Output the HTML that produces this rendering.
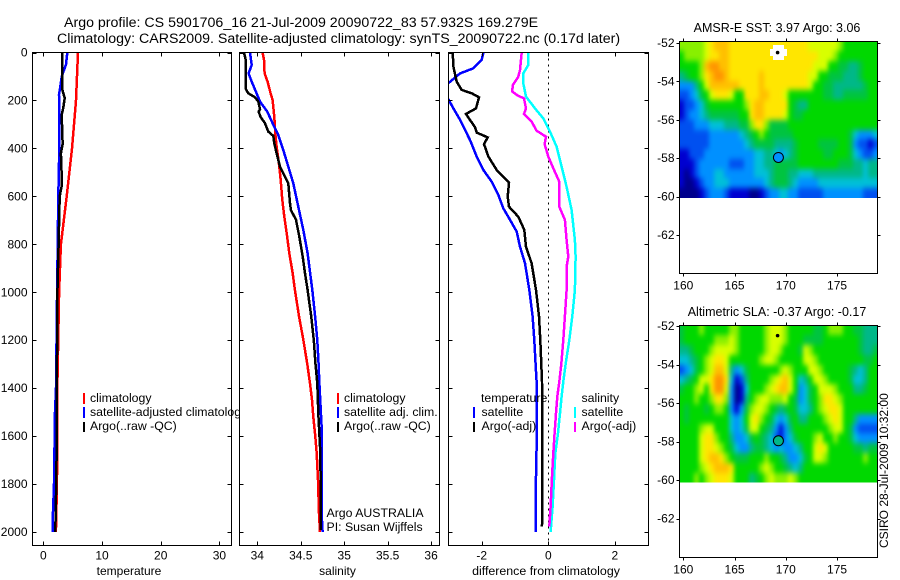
<!DOCTYPE html>
<html lang="en">
<head>
<meta charset="utf-8">
<title>Argo profile CS 5901706_16</title>
<style>
html,body{margin:0;padding:0;background:#fff;}
svg{display:block;}
text{font-family:"Liberation Sans",sans-serif;font-size:12px;fill:#000;}
text.ttl{font-size:14.2px;}
text.map-ttl{font-size:12.5px;}
text.lg{font-size:12.3px;}
</style>
</head>
<body>
<svg id="chart" xmlns="http://www.w3.org/2000/svg" width="900" height="580" viewBox="0 0 900 580">
  <rect x="0" y="0" width="900" height="580" fill="#fff"/>
  <text class="ttl" x="64" y="27">Argo profile: CS 5901706_16 21-Jul-2009 20090722_83 57.932S 169.279E</text>
  <text class="ttl" x="57" y="43">Climatology: CARS2009. Satellite-adjusted climatology: synTS_20090722.nc (0.17d later)</text>

  <g id="panel-temp"></g>
  <g>
    <rect x="83" y="393" width="2" height="11" fill="#f00"/>
    <rect x="83" y="407" width="2" height="11" fill="#00f"/>
    <rect x="83" y="422" width="2" height="10" fill="#000"/>
    <text class="lg" x="90" y="402">climatology</text>
    <text class="lg" x="90" y="416">satellite-adjusted climatology</text>
    <text class="lg" x="90" y="430">Argo(..raw -QC)</text>
  </g>
  <text x="129" y="575" text-anchor="middle">temperature</text>

  <g id="panel-sal"></g>
  <g>
    <rect x="337" y="393" width="2" height="11" fill="#f00"/>
    <rect x="337" y="407" width="2" height="11" fill="#00f"/>
    <rect x="337" y="422" width="2" height="10" fill="#000"/>
    <text class="lg" x="344" y="402">climatology</text>
    <text class="lg" x="344" y="416">satellite adj. clim.</text>
    <text class="lg" x="344" y="430">Argo(..raw -QC)</text>
    <text class="lg" x="326.5" y="517">Argo AUSTRALIA</text>
    <text class="lg" x="326.5" y="531">PI: Susan Wijffels</text>
  </g>
  <text x="337.5" y="575" text-anchor="middle">salinity</text>

  <g id="panel-diff"></g>
  <g>
    <text class="lg" x="481" y="402">temperature</text>
    <rect x="473" y="407" width="2" height="11" fill="#00f"/>
    <rect x="473" y="422" width="2" height="10" fill="#000"/>
    <text class="lg" x="481.5" y="416">satellite</text>
    <text class="lg" x="481.5" y="430">Argo(-adj)</text>
    <text class="lg" x="581.5" y="402">salinity</text>
    <rect x="574" y="407" width="2" height="11" fill="#0ff"/>
    <rect x="574" y="422" width="2" height="10" fill="#f0f"/>
    <text class="lg" x="581.5" y="416">satellite</text>
    <text class="lg" x="581.5" y="430">Argo(-adj)</text>
  </g>
  <text style="font-size:12.4px" x="546" y="575" text-anchor="middle">difference from climatology</text>

  <text class="map-ttl" x="777" y="32" text-anchor="middle">AMSR-E SST: 3.97 Argo: 3.06</text>
  <g id="map-sst"></g>
  <text class="map-ttl" x="777" y="316" text-anchor="middle">Altimetric SLA: -0.37 Argo: -0.17</text>
  <g id="map-sla"></g>
  <text transform="translate(888,548) rotate(-90)">CSIRO 28-Jul-2009 10:32:00</text>
</svg>
<script>
// ---- Axis tick values ----
const depthTicks = [0,200,400,600,800,1000,1200,1400,1600,1800,2000];
const tempTicks = [0,10,20,30];
const salTicks = [34,34.5,35,35.5,36];
const diffTicks = [-2,0,2];
const lonTicks = [160,165,170,175];
const latTicks = [-52,-54,-56,-58,-60,-62];

// ---- Temperature profiles ----
const tempClimDepth = [0,200,400,600,800,1000,1400,1650,1850,2000];
const tempClimValues = [5.91,5.57,4.89,3.98,3.0,2.7,2.39,2.4,2.28,2.15];
const tempSatDepth = [0,50,100,150,175,300,400,600,1000,1400,1500,1800,1950,2000];
const tempSatValues = [4.09,3.87,3.13,2.85,2.67,2.73,2.73,2.56,2.35,2.16,2.0,1.83,1.6,1.6];
const tempArgoDepth = [0,100,150,190,230,260,300,350,380,420,550,600,800,1000,1400,1650,1850,2000];
const tempArgoValues = [3.19,3.19,3.19,3.64,3.41,3.13,3.19,3.24,3.3,3.0,3.19,2.8,2.6,2.4,2.3,2.28,2.16,2.05];

// ---- Salinity profiles ----
const salClimDepth = [0,31,87,122,170,198,268,337,393,462,532,615,685,754,837,921,990,1100,1200,1300,1380,1449,1519,1602,1672,1783,1922,2000];
const salClimValues = [34.061,34.077,34.084,34.119,34.153,34.176,34.196,34.207,34.222,34.249,34.269,34.288,34.311,34.338,34.368,34.407,34.433,34.48,34.53,34.575,34.606,34.629,34.644,34.667,34.683,34.698,34.71,34.721];
const salSatDepth = [0,52,87,122,170,205,247,295,344,407,476,546,643,740,837,990,1100,1200,1300,1373,1560,1700,1922,2000];
const salSatValues = [33.916,33.935,33.9,33.935,33.992,34.031,34.115,34.176,34.242,34.299,34.357,34.414,34.472,34.529,34.579,34.633,34.665,34.69,34.705,34.713,34.74,34.74,34.74,34.752];
const salArgoDepth = [0,31,154,170,187,205,237,247,268,295,330,348,379,420,476,518,546,629,657,698,768,851,921,990,1100,1200,1300,1380,1505,1644,1783,1991];
const salArgoValues = [33.847,33.866,33.87,33.896,33.973,34.012,34.031,34.015,34.038,34.088,34.127,34.184,34.196,34.222,34.261,34.318,34.357,34.376,34.387,34.445,34.483,34.522,34.549,34.579,34.62,34.65,34.67,34.69,34.702,34.721,34.729,34.729];

// ---- Differences from climatology ----
const diffTempSatDepth = [0,31,66,87,122,150,195,233,281,323,365,434,490,539,594,650,698,747,810,879,990,1100,1200,1300,1373,1644,1852,2000];
const diffTempSatValues = [-1.95,-2.0,-2.25,-2.65,-2.95,-3.2,-3.0,-2.85,-2.65,-2.5,-2.35,-2.15,-1.95,-1.7,-1.5,-1.35,-1.15,-0.95,-0.85,-0.7,-0.57,-0.47,-0.42,-0.38,-0.35,-0.35,-0.38,-0.38];
const diffTempArgoDepth = [0,59,122,156,170,187,233,256,281,312,334,354,382,434,490,543,601,643,685,740,810,879,990,1100,1200,1300,1373,1644,1978];
const diffTempArgoValues = [-2.87,-2.85,-2.75,-2.6,-2.3,-2.08,-2.17,-2.47,-2.35,-2.2,-2.15,-1.82,-1.93,-1.8,-1.55,-1.18,-1.22,-1.18,-0.9,-0.72,-0.67,-0.5,-0.37,-0.28,-0.24,-0.21,-0.19,-0.18,-0.19];
const diffSalSatDepth = [0,52,87,129,184,233,275,330,393,476,560,657,782,851,990,1100,1200,1300,1373,1435,1505,1588,1672,1783,1894,2000];
const diffSalSatValues = [-0.6,-0.6,-0.75,-0.75,-0.67,-0.4,-0.15,0.05,0.25,0.4,0.55,0.7,0.8,0.82,0.8,0.72,0.63,0.52,0.45,0.4,0.35,0.29,0.21,0.17,0.13,0.07];
const diffSalArgoDepth = [0,73,101,136,163,181,191,233,256,288,326,351,382,434,483,539,643,698,782,851,893,990,1100,1200,1300,1373,1435,1505,1588,1672,1769,1894,1978];
const diffSalArgoValues = [-0.8,-0.85,-0.9,-1.07,-1.08,-0.9,-0.73,-0.67,-0.73,-0.5,-0.35,-0.07,-0.11,0,0.15,0.33,0.33,0.5,0.55,0.6,0.55,0.55,0.5,0.45,0.39,0.33,0.27,0.23,0.19,0.15,0.11,0.07,0.03];

// ---- Float position ----
const floatLon = [169.279];
const floatLat = [-57.932];
const previousLon = [169.2];
const previousLat = [-52.5];
const sstAtFloat = [3];
const slaAtFloat = [5];

// ---- Map grids: colour-scale level of each half-degree cell, north to south ----
const sstGrid = [
[8,8,8,8,8,9,10,11,11,11,10,10,10,10,10,10,10,10,10,10,10,10,10,10,10,10,9,9,9,9,9,9,8,7,7,7,7,7,7,7],
[7,8,8,8,8,9,10,10,11,11,10,10,10,10,10,10,10,10,10,10,10,10,10,10,10,10,10,10,9,9,9,8,7,7,7,7,7,7,7,7],
[7,7,7,7,8,11,12,12,11,11,10,10,10,10,10,10,10,10,10,10,10,10,10,10,10,10,10,9,9,9,7,7,6,6,5,5,6,7,7,7],
[5,6,7,7,8,10,11,12,12,11,10,10,10,10,10,10,11,10,10,10,10,10,10,10,10,10,9,9,7,7,6,6,6,5,5,5,6,7,7,7],
[3,3,3,5,7,9,11,11,11,11,11,11,10,10,10,10,11,10,10,10,10,10,10,10,10,10,9,7,7,6,6,5,5,5,5,5,5,6,7,7],
[2,2,3,4,6,7,9,10,10,10,9,7,7,10,10,10,11,11,10,10,10,9,7,7,7,7,7,7,7,6,6,5,5,6,6,6,6,6,7,7],
[1,2,2,3,4,6,7,7,7,7,7,7,7,8,10,11,11,10,10,10,10,10,7,6,5,5,7,7,7,7,7,7,7,7,7,7,7,7,7,7],
[1,2,3,3,4,5,6,6,6,6,6,6,7,7,10,11,11,10,10,10,10,9,7,6,6,7,7,7,7,7,7,7,7,7,7,7,7,7,7,7],
[2,2,2,3,3,3,4,4,4,5,5,5,6,6,8,10,10,8,6,6,6,6,7,7,7,7,7,7,7,7,7,7,7,7,7,7,7,7,7,7],
[2,2,2,2,2,2,3,3,3,3,3,3,4,5,6,7,8,7,6,6,6,6,6,7,7,7,7,7,7,7,7,7,7,7,6,4,3,3,3,4],
[2,2,2,2,2,2,3,3,3,3,3,3,3,4,5,6,6,6,6,5,5,5,5,6,7,7,7,7,6,6,6,6,7,7,6,3,2,2,1,2],
[1,1,2,2,2,3,3,3,3,3,3,3,3,3,3,4,4,5,5,4,3,4,5,6,7,7,7,7,7,6,6,7,7,7,6,4,3,2,2,3],
[1,1,1,2,3,3,3,3,3,3,2,2,2,3,3,4,4,5,5,6,6,6,6,6,7,7,7,7,7,7,7,7,6,6,6,5,5,4,5,5],
[1,0,1,2,3,3,3,4,4,3,3,3,3,3,3,4,4,4,5,6,6,6,5,5,4,4,4,5,5,5,5,5,5,5,5,5,5,4,5,5],
[1,0,0,1,2,3,3,4,4,4,3,3,3,3,3,3,3,4,5,6,6,6,5,4,3,3,3,3,4,4,4,4,4,4,4,4,4,4,4,4],
[0,0,0,0,1,2,3,3,3,2,1,1,1,1,0,0,1,2,3,3,4,4,3,3,2,2,2,2,2,3,3,3,3,3,3,3,3,2,2,2]
];
const slaGrid = [
[6,7,7,7,8,7,7,7,7,7,8,8,7,7,7,7,7,8,9,9,9,8,7,7,7,7,7,6,6,7,8,8,8,7,7,6,6,5,5,5],
[6,7,7,7,7,7,7,8,8,8,9,8,7,7,7,7,7,8,9,9,9,8,7,7,7,6,6,6,6,7,7,7,7,7,7,7,6,5,5,5],
[5,5,6,7,7,7,8,9,9,9,9,8,7,7,7,7,7,8,9,9,8,7,7,7,6,9,8,7,7,7,7,7,7,7,7,7,6,5,5,6],
[4,4,5,6,7,8,9,10,10,9,7,7,7,7,7,7,8,9,9,8,7,7,7,7,7,9,9,8,7,7,7,7,7,7,7,7,7,6,6,7],
[2,3,4,6,7,8,9,11,11,9,5,3,4,6,7,7,7,7,7,7,8,9,8,7,7,7,9,9,8,7,7,7,7,7,6,5,4,5,7,7],
[4,5,6,7,9,9,10,12,12,10,4,1,2,5,7,7,7,7,8,9,10,11,9,7,4,5,7,9,9,8,7,7,7,7,6,4,4,5,7,7],
[6,7,7,8,9,7,10,12,12,9,3,0,1,4,7,7,7,8,9,10,11,11,9,7,3,4,6,7,9,9,9,8,7,7,7,5,5,6,7,7],
[7,7,7,8,7,7,8,10,10,8,3,0,1,5,7,8,9,9,8,8,8,9,7,6,3,4,6,7,8,10,10,9,8,7,7,7,7,7,7,7],
[7,6,7,7,7,6,7,8,8,7,3,1,3,6,8,9,9,8,7,6,5,6,7,6,4,4,5,7,8,9,10,10,9,7,7,7,7,7,7,7],
[7,6,7,7,7,7,7,7,7,7,4,3,4,7,9,10,8,7,6,4,3,4,6,7,5,5,7,7,7,8,9,10,9,7,7,5,3,3,3,3],
[7,7,7,7,8,9,9,7,7,7,4,3,4,6,9,9,7,6,5,3,1,3,5,7,7,7,7,7,7,7,8,9,9,7,6,3,2,2,2,2],
[7,7,7,7,9,10,10,8,7,7,5,3,3,4,6,7,6,5,4,2,1,3,4,6,7,7,7,8,9,7,7,8,7,7,6,4,3,3,3,3],
[7,7,7,7,9,10,10,9,8,7,6,4,3,3,5,6,6,5,4,3,4,3,3,4,5,7,7,9,10,9,7,7,7,7,7,6,6,5,6,6],
[7,7,7,7,9,10,11,11,10,8,7,6,6,6,7,7,7,8,7,7,6,5,3,3,4,6,7,9,9,8,7,7,7,7,7,7,7,8,7,7],
[7,7,7,7,8,9,10,11,11,11,10,7,7,7,7,7,8,9,8,7,7,6,5,4,5,7,7,7,7,7,7,7,7,7,7,7,7,7,7,7],
[7,7,7,8,7,8,9,10,10,10,9,7,7,7,5,6,7,8,9,8,8,8,9,8,7,7,7,7,7,7,7,7,7,7,7,7,7,7,7,7]
];

const SVGNS = 'http://www.w3.org/2000/svg';
const colourScale = ['#00008c','#0000d0','#0050f0','#0090ff','#00c0d8','#00b888','#00c440','#00d800','#88f000','#d8ff00','#ffe600','#ffc000','#ff9400'];

function make(tag, parent, props) {
  const el = document.createElementNS(SVGNS, tag);
  for (const k in props) el.setAttribute(k, props[k]);
  parent.appendChild(el);
  return el;
}

function addXTick(g, sx, v, top, bottom, len, out) {
  const x = Math.round(sx(v)) + 0.5;
  const t1 = make('line', g, {x1:x, x2:x, y1:top, y2:top + (out ? -len : len), stroke:'#000', 'shape-rendering':'crispEdges'});
  
  
  const t2 = make('line', g, {x1:x, x2:x, y1:bottom, y2:bottom + (out ? len : -len), stroke:'#000', 'shape-rendering':'crispEdges'});
  
  
  const lab = make('text', g, {x:sx(v), y:bottom + 14 + (out ? 2 : 0), 'text-anchor':'middle'});
  lab.textContent = String(v);
  
  
}

function addYTick(g, sy, v, left, right, len, out, showLabel) {
  const y = Math.round(sy(v)) + 0.5;
  const t1 = make('line', g, {x1:left, x2:left + (out ? -len : len), y1:y, y2:y, stroke:'#000', 'shape-rendering':'crispEdges'});
  
  
  const t2 = make('line', g, {x1:right, x2:right + (out ? len : -len), y1:y, y2:y, stroke:'#000', 'shape-rendering':'crispEdges'});
  
  
  if (showLabel) {
    const lab = make('text', g, {x:left - 5, y:sy(v) + 4, 'text-anchor':'end'});
    lab.textContent = String(v);
    
    
  }
}

function drawProfilePanel(id, left, right, sx, xTicks, showDepthLabels, series, dotted) {
  const top = 52.5, bottom = 545.5;
  const sy = d => 52.5 + d * 0.23975;
  const g = document.getElementById(id);
  const bg = make('rect', g, {x:left, y:top, width:right-left, height:bottom-top, fill:'#fff'});
  
  
  const clipId = id + '-clip';
  const clip = make('clipPath', g, {id:clipId});
  make('rect', clip, {x:left, y:top, width:right-left, height:bottom-top});
  if (dotted) {
    const z = make('line', g, {x1:Math.round(sx(0))+0.5, x2:Math.round(sx(0))+0.5, y1:top, y2:bottom, stroke:'#000', 'stroke-dasharray':'2 4', 'shape-rendering':'crispEdges'});
    
    
  }
  series.forEach(s => {
    const pts = s.depth.map((d, i) => sx(s.values[i]).toFixed(1) + ',' + sy(d).toFixed(1)).join(' ');
    const line = make('polyline', g, {points:pts, fill:'none', stroke:s.colour, 'stroke-width':2.5, 'clip-path':'url(#' + clipId + ')', 'shape-rendering':'crispEdges'});
    
    
  });
  const frame = make('rect', g, {x:left, y:top, width:right-left, height:bottom-top, fill:'none', stroke:'#000', 'shape-rendering':'crispEdges'});
  
  
  xTicks.forEach(v => addXTick(g, sx, v, top, bottom, 4, false));
  depthTicks.forEach(v => addYTick(g, sy, v, left, right, 4, false, showDepthLabels));
}

drawProfilePanel('panel-temp', 32.5, 231.5, v => 43.3 + v * 5.87, tempTicks, true, [
  {name:'temperature-climatology-line', depth:tempClimDepth, values:tempClimValues, colour:'#f00'},
  {name:'temperature-satellite-line', depth:tempSatDepth, values:tempSatValues, colour:'#00f'},
  {name:'temperature-argo-line', depth:tempArgoDepth, values:tempArgoValues, colour:'#000'}
], false);

drawProfilePanel('panel-sal', 239.5, 439.5, v => 257.3 + (v - 34) * 86.9, salTicks, false, [
  {name:'salinity-climatology-line', depth:salClimDepth, values:salClimValues, colour:'#f00'},
  {name:'salinity-satellite-line', depth:salSatDepth, values:salSatValues, colour:'#00f'},
  {name:'salinity-argo-line', depth:salArgoDepth, values:salArgoValues, colour:'#000'}
], false);

drawProfilePanel('panel-diff', 448.5, 648.5, v => 548.3 + v * 33.3, diffTicks, false, [
  {name:'difference-temp-satellite-line', depth:diffTempSatDepth, values:diffTempSatValues, colour:'#00f'},
  {name:'difference-temp-argo-line', depth:diffTempArgoDepth, values:diffTempArgoValues, colour:'#000'},
  {name:'difference-sal-satellite-line', depth:diffSalSatDepth, values:diffSalSatValues, colour:'#0ff'},
  {name:'difference-sal-argo-line', depth:diffSalArgoDepth, values:diffSalArgoValues, colour:'#f0f'}
], true);

function drawMap(id, grid, top, lat52, latScale, bottom, imageBottom, showWhiteBox, floatLevel) {
  const left = 679.5, right = 877.5;
  const sx = lon => 683.3 + (lon - 160) * 10.25;
  const sy = lat => lat52 + (-52 - lat) * latScale;
  const g = document.getElementById(id);
  const bg = make('rect', g, {x:left, y:top, width:right-left, height:bottom-top, fill:'#fff'});
  
  

  const clipId = id + '-clip';
  const clip = make('clipPath', g, {id:clipId});
  make('rect', clip, {x:left, y:top, width:right-left, height:imageBottom-top});
  const filterId = id + '-soften';
  const filter = make('filter', g, {id:filterId, filterUnits:'userSpaceOnUse', x:left-30, y:top-30, width:right-left+60, height:imageBottom-top+60, 'color-interpolation-filters':'sRGB'});
  make('feGaussianBlur', filter, {stdDeviation:'2.2 3'});
  const clipped = make('g', g, {'clip-path':'url(#' + clipId + ')'});
  
  
  const image = make('g', clipped, {filter:'url(#' + filterId + ')'});
  
  

  const rows = grid.length;
  const bleed = 14;
  grid.forEach((row, r) => {
    const y0 = Math.round(top + (imageBottom - top) * r / rows) - (r === 0 ? bleed : 0);
    const y1 = Math.round(top + (imageBottom - top) * (r + 1) / rows) + (r === rows - 1 ? bleed : 0);
    row.forEach((level, c) => {
      const x0 = Math.round(left + (right - left) * c / row.length) - (c === 0 ? bleed : 0);
      const x1 = Math.round(left + (right - left) * (c + 1) / row.length) + (c === row.length - 1 ? bleed : 0);
      const cell = make('rect', image, {x:x0, y:y0, width:x1-x0, height:y1-y0, fill:colourScale[level], 'shape-rendering':'crispEdges'});
      
      
    });
  });
  const px = sx(previousLon[0]), py = sy(previousLat[0]);
  if (showWhiteBox) {
    const a = make('rect', g, {x:Math.round(px-5), y:Math.round(py-8), width:11, height:15, fill:'#fff', 'shape-rendering':'crispEdges'});
    
    
    const b = make('rect', g, {x:Math.round(px-8), y:Math.round(py-4), width:17, height:7, fill:'#fff', 'shape-rendering':'crispEdges'});
    
    
  }
  const dot = make('circle', g, {cx:px, cy:py, r:1.8, fill:'#000'});
  
  
  const mark = make('circle', g, {cx:sx(floatLon[0]), cy:sy(floatLat[0]) + 0.6, r:5, fill:colourScale[floatLevel], stroke:'#000', 'stroke-width':1});
  
  
  const frame = make('rect', g, {x:left, y:top, width:right-left, height:bottom-top, fill:'none', stroke:'#000', 'shape-rendering':'crispEdges'});
  
  
  lonTicks.forEach(v => addXTick(g, sx, v, top, bottom, 3, true));
  latTicks.forEach(v => addYTick(g, sy, v, left, right, 3, true, true));
}

drawMap('map-sst', sstGrid, 41.5, 43, 19.2, 273.5, 198, true, sstAtFloat[0]);
drawMap('map-sla', slaGrid, 325.5, 326, 19.25, 557.5, 482.5, false, slaAtFloat[0]);
</script>
</body>
</html>
